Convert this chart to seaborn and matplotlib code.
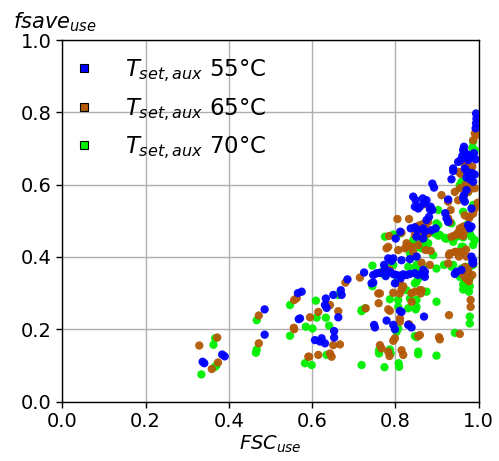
import matplotlib
matplotlib.use("Agg")
import matplotlib.pyplot as plt
from matplotlib.lines import Line2D
import seaborn as sns
import pandas as pd

# ---- data ----
fsc_55 = [0.337,0.341,0.384,0.390,0.486,0.486,0.575,0.566,0.568,
          0.633,0.669,0.651,0.631,0.635,0.663,0.571,0.653,0.653,0.607,0.619,0.631,0.623,0.749,0.671,
          0.725,0.747,0.755,0.685,0.747,0.763,0.777,0.743,
          0.796,0.803,0.811,0.819,0.827,0.835,0.847,0.855,0.867,0.871,0.787,0.799,
          0.811,0.815,0.869,0.751,0.779,0.795,0.799,0.831,0.839,
          0.943,0.947,0.985,0.987,0.867,0.871,0.959,0.987,0.813,
          0.994,0.995,0.994,0.993,
          0.965,0.963,0.967,0.961,0.969,0.977,0.983,0.989,
          0.951,0.957,0.975,0.993,
          0.939,0.939,0.967,0.971,0.979,0.985,0.991,
          0.935,0.971,0.979,0.987,
          0.889,0.893,0.965,0.963,0.971,
          0.843,0.866,0.875,0.927,
          0.849,0.869,0.859,0.847,0.855,0.883,
          0.885,0.889,0.967,0.983,
          0.875,0.881,0.920,0.923,0.927,
          0.975,0.979,0.983,
          0.837,0.847,0.853,0.867,0.871,0.887,0.897,
          0.801,0.812,0.851,0.867,
          0.983,
          0.795,0.815,0.835,0.851,0.783,0.791,0.773,0.775]
fsave_55 = [0.110,0.106,0.130,0.125,0.255,0.185,0.304,0.300,0.228,
            0.285,0.308,0.295,0.267,0.259,0.233,0.230,0.195,0.177,0.170,0.166,0.161,0.175,0.212,0.295,
            0.357,0.350,0.355,0.338,0.329,0.356,0.347,0.327,
            0.352,0.350,0.348,0.352,0.350,0.353,0.355,0.350,0.353,0.345,0.359,0.327,
            0.251,0.248,0.235,0.205,0.224,0.212,0.200,0.212,0.205,
            0.353,0.359,0.387,0.382,0.364,0.359,0.364,0.391,0.341,
            0.797,0.783,0.770,0.756,
            0.705,0.696,0.690,0.680,0.677,0.682,0.677,0.687,
            0.663,0.668,0.668,0.670,
            0.645,0.638,0.645,0.638,0.632,0.632,0.628,
            0.615,0.620,0.615,0.608,
            0.603,0.592,0.571,0.562,0.585,
            0.567,0.562,0.557,0.559,
            0.557,0.548,0.539,0.539,0.534,0.532,
            0.539,0.530,0.553,0.534,
            0.502,0.511,0.521,0.507,0.497,
            0.488,0.479,0.484,
            0.479,0.482,0.474,0.479,0.470,0.474,0.479,
            0.451,0.470,0.456,0.451,
            0.401,
            0.396,0.391,0.394,0.401,0.396,0.389,0.378,0.368]

fsc_65 = [0.329,0.372,0.359,0.374,0.472,0.472,0.557,0.563,0.557,0.591,
          0.615,0.643,0.663,0.595,0.556,0.651,0.667,0.643,0.647,0.615,0.593,0.729,0.759,
          0.715,0.680,
          0.811,0.819,0.815,0.795,0.811,0.839,0.847,0.859,0.861,0.839,0.763,0.760,0.787,0.783,0.929,
          0.811,0.811,0.833,0.855,0.799,0.795,
          0.763,0.767,0.783,0.786,0.815,0.819,
          0.905,0.907,0.955,0.981,0.981,
          0.963,0.967,0.971,0.975,0.975,0.967,
          0.927,0.931,0.943,0.883,0.863,0.859,0.863,
          0.991,0.994,0.987,
          0.965,0.969,0.975,0.979,0.985,
          0.953,0.957,
          0.969,0.985,0.969,0.977,0.991,
          0.943,0.955,0.975,
          0.911,0.869,0.927,0.933,0.951,0.963,
          0.967,0.979,0.987,0.998,
          0.805,0.833,
          0.859,0.867,0.879,0.873,0.851,0.857,
          0.955,0.963,0.931,0.927,0.977,0.991,0.967,
          0.847,0.855,0.785,0.815,0.827,0.831,0.855,0.783,0.807,0.873,0.885,
          0.879,0.863,0.863,
          0.935,0.943,0.951,0.955,0.963,
          0.929,0.947,0.953,0.971,0.959,0.970,
          0.823,0.839,0.843,0.779,0.787,
          0.987,0.985,0.977]
fsave_65 = [0.155,0.177,0.090,0.108,0.238,0.161,0.281,0.286,0.200,0.124,
            0.248,0.267,0.250,0.233,0.204,0.156,0.158,0.133,0.124,0.129,0.124,0.258,0.299,
            0.343,0.329,
            0.327,0.319,0.310,0.301,0.299,0.300,0.304,0.308,0.299,0.276,0.299,0.272,0.251,0.255,0.239,
            0.230,0.221,0.214,0.181,0.175,0.168,
            0.156,0.147,0.138,0.126,0.142,0.129,
            0.178,0.172,0.187,0.281,0.262,
            0.352,0.345,0.340,0.357,0.370,0.372,
            0.382,0.410,0.414,0.378,0.384,0.184,0.308,
            0.742,0.737,0.723,
            0.660,0.665,0.655,0.645,0.650,
            0.635,0.630,
            0.600,0.600,0.590,0.585,0.590,
            0.580,0.590,0.580,
            0.571,0.546,0.553,0.530,0.557,0.567,
            0.515,0.512,0.520,0.550,
            0.505,0.505,
            0.488,0.491,0.497,0.484,0.484,0.479,
            0.479,0.484,0.497,0.507,0.507,0.534,0.474,
            0.461,0.465,0.458,0.467,0.438,0.430,0.433,0.428,0.419,0.419,0.417,
            0.465,0.456,0.462,
            0.456,0.460,0.468,0.462,0.458,
            0.405,0.414,0.401,0.401,0.414,0.420,
            0.424,0.428,0.414,0.424,0.364,
            0.382,0.350,0.333]

fsc_70 = [0.363,0.367,0.367,0.334,0.370,0.467,0.467,0.465,0.547,0.547,0.583,
          0.609,0.663,0.611,0.633,0.585,0.601,0.641,0.635,0.599,0.719,0.719,
          0.745,0.767,0.745,
          0.803,0.827,0.847,0.851,0.855,0.875,0.835,0.851,0.787,0.807,0.831,0.849,0.851,0.807,0.899,0.719,0.727,
          0.803,0.807,0.851,0.847,0.761,0.761,0.787,0.789,0.808,0.809,0.774,0.855,0.855,0.899,0.943,0.979,0.979,
          0.977,0.963,0.979,0.979,0.963,0.939,0.979,0.899,0.917,
          0.987,0.991,0.985,0.959,0.955,0.955,0.975,0.903,0.963,0.987,
          0.903,0.899,0.931,0.927,0.935,0.907,0.923,0.895,0.903,0.919,
          0.971,0.979,0.983,0.991,
          0.859,0.879,0.871,0.775,0.795,0.812,
          0.843,0.863,0.867,0.843,0.865,0.879,0.859,
          0.835,0.851,0.921,0.939,0.947,0.955,0.963,
          0.963,0.987,0.959,0.891,
          0.831,0.847,0.851,0.867,0.855,0.795,0.783,0.767,0.775,
          0.935,0.959,0.969,0.987,0.955,0.967]
fsave_70 = [0.157,0.175,0.096,0.075,0.100,0.225,0.144,0.135,0.267,0.182,0.106,
            0.279,0.295,0.232,0.232,0.207,0.202,0.210,0.129,0.101,0.101,0.250,
            0.376,0.355,0.319,
            0.331,0.308,0.327,0.331,0.341,0.304,0.285,0.281,0.283,0.281,0.258,0.255,0.262,0.262,0.276,0.253,0.258,
            0.193,0.202,0.178,0.181,0.142,0.133,0.144,0.133,0.106,0.096,0.095,0.138,0.131,0.127,0.190,0.235,0.216,
            0.304,0.310,0.319,0.341,0.324,0.378,0.373,0.368,0.378,
            0.719,0.696,0.702,0.608,0.599,0.592,0.580,0.530,0.525,0.544,
            0.488,0.493,0.495,0.497,0.493,0.461,0.451,0.465,0.459,0.453,
            0.488,0.465,0.456,0.447,
            0.465,0.465,0.456,0.456,0.462,0.465,
            0.433,0.424,0.438,0.447,0.444,0.438,0.426,
            0.410,0.401,0.451,0.442,0.456,0.458,0.454,
            0.428,0.433,0.428,0.405,
            0.373,0.370,0.378,0.373,0.364,0.378,0.373,0.359,0.350,
            0.373,0.368,0.373,0.378,0.345,0.336]

labels = [r"$T_{set,aux}$ 55°C", r"$T_{set,aux}$ 65°C", r"$T_{set,aux}$ 70°C"]
colors = ["#0000ff", "#b35806", "#00f000"]

df = pd.concat([
    pd.DataFrame({"FSC": fsc_70, "fsave": fsave_70, "case": labels[2]}),
    pd.DataFrame({"FSC": fsc_65, "fsave": fsave_65, "case": labels[1]}),
    pd.DataFrame({"FSC": fsc_55, "fsave": fsave_55, "case": labels[0]}),
], ignore_index=True)

sns.set_style("ticks")
plt.rcParams["font.family"] = ["DejaVu Sans"]
plt.rcParams["text.color"] = "black"
plt.rcParams["axes.labelcolor"] = "black"
plt.rcParams["xtick.color"] = "black"
plt.rcParams["ytick.color"] = "black"

fig = plt.figure(figsize=(4.99, 4.61), dpi=100)
ax = fig.add_axes([0.125, 0.129, 0.834, 0.784])

sns.scatterplot(data=df, x="FSC", y="fsave", hue="case", palette=dict(zip(labels, colors)),
                s=36, linewidth=0, alpha=0.95, legend=False, ax=ax, zorder=3)

ax.set_xlim(0, 1)
ax.set_ylim(0, 1)
ax.set_xticks([0, 0.2, 0.4, 0.6, 0.8, 1.0])
ax.set_yticks([0, 0.2, 0.4, 0.6, 0.8, 1.0])
ax.grid(True, color="#b0b0b0", linewidth=1)
ax.set_axisbelow(True)
ax.tick_params(labelsize=14, length=4, width=1, color="black", labelcolor="black")
for sp in ax.spines.values():
    sp.set_color("black")
    sp.set_linewidth(1)

ax.set_xlabel(r"$FSC_{use}$", fontsize=14, labelpad=2, color="black")
ax.set_ylabel(r"$fsave_{use}$", fontsize=15, rotation=0, ha="left", va="bottom", color="black")
ax.yaxis.set_label_coords(-0.118, 1.016)

handles = [Line2D([0], [0], marker="s", linestyle="none", markersize=6,
                  markerfacecolor=c, markeredgecolor="black", markeredgewidth=0.8) for c in colors]
leg = ax.legend(handles, labels, loc="upper left", frameon=False, fontsize=16.5,
                handlelength=1.0, handletextpad=1.3, labelspacing=0.52, borderaxespad=-0.1,
                bbox_to_anchor=(0.007, 0.972))
for t in leg.get_texts():
    t.set_color("black")

fig.savefig("out.png", dpi=100)
